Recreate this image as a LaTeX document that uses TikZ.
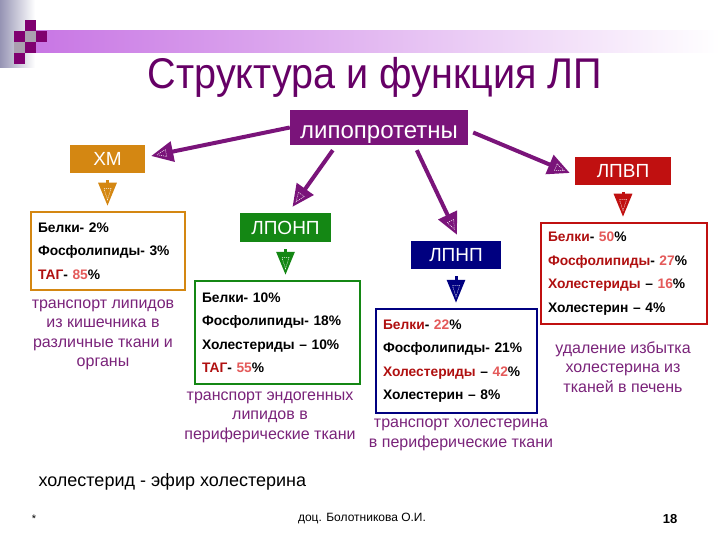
\documentclass[tikz,border=0pt]{standalone}
\usepackage{fontspec}
\setmainfont{Liberation Sans}
\newfontfamily\titlefont[FakeStretch=0.92]{Liberation Sans}
\usepackage{xcolor}
\usetikzlibrary{arrows.meta,calc,decorations.markings}
\definecolor{lpviolet}{RGB}{122,20,122}
\definecolor{titleviolet}{RGB}{102,0,102}
\definecolor{notepurple}{RGB}{122,35,122}
\definecolor{barviolet}{RGB}{200,118,228}
\definecolor{stripgray}{RGB}{150,148,180}
\definecolor{sqpurple}{RGB}{128,0,112}
\definecolor{sqgray}{RGB}{170,160,176}
\definecolor{xmorange}{RGB}{212,135,18}
\definecolor{vldlgreen}{RGB}{20,135,20}
\definecolor{ldlnavy}{RGB}{0,0,128}
\definecolor{hdlred}{RGB}{192,16,16}
\definecolor{wordred}{RGB}{176,16,16}
\definecolor{numred}{RGB}{228,90,90}

\begin{document}
\begin{tikzpicture}[x=1pt,y=-1pt,
  labelbox/.style={fill=#1, text=white, inner sep=0pt, font=\fontsize{19}{22}\selectfont},
  infobox/.style={draw=#1, line width=2.5pt, align=left, inner xsep=7pt, inner ysep=0pt,
    font=\bfseries\fontsize{13.8}{23.5}\selectfont},
  note/.style={text=notepurple, align=center, font=\fontsize{16}{19.5}\selectfont},
  innertri/.style={postaction={decorate, decoration={markings,
    mark=at position 0.999 with {\draw[-, white, line width=0.5pt, dash pattern=on 1pt off 1pt]
      (-#1,-3.5pt) -- (-#1,3.5pt) -- (-6pt,0pt) -- cycle;}}}},
  bigarrow/.style={lpviolet, line width=4pt, -{Triangle[length=22pt,width=20pt]}, innertri=15pt},
  downarrow/.style={#1, line width=3pt, -{Triangle[length=23pt,width=18pt]}, innertri=17pt}
]
\fill[white] (0,0) rectangle (720,540);

% header
\shade[left color=stripgray, right color=white] (0,0) rectangle (35,68);
\shade[left color=barviolet, right color=white] (36,31) rectangle (720,53);
\foreach \x/\y/\c in {25/20/sqpurple, 14/31/sqpurple, 25/31/sqgray, 36/31/sqpurple,
                      14/42/sqgray, 25/42/sqpurple, 14/53/sqpurple}
    \fill[\c] (\x,\y) rectangle ++(11,11);
\node[anchor=base, text=titleviolet, font=\titlefont\fontsize{43}{48}\selectfont] (title) at (375,89) {Структура и функция ЛП};

% lipoprotein classes
\node[labelbox=lpviolet, minimum width=178pt, minimum height=35pt, text height=24pt, text depth=2pt,
      font=\fontsize{24}{27}\selectfont] (lp) at (379,127.5) {липопротетны};
\node[labelbox=xmorange, minimum width=75pt, minimum height=28pt] (xm) at (107.5,159) {ХМ};
\node[labelbox=vldlgreen, minimum width=91pt, minimum height=29pt] (lponp) at (285.5,227.5) {ЛПОНП};
\node[labelbox=ldlnavy, minimum width=90pt, minimum height=28pt] (lpnp) at (456,255) {ЛПНП};
\node[labelbox=hdlred, minimum width=96pt, minimum height=28pt] (lpvp) at (623,171) {ЛПВП};

% composition
\node[infobox=xmorange, text width=140pt, minimum height=78pt] (xmbox) at (108,251)
  {Белки- 2\%\\Фосфолипиды- 3\%\\\textcolor{wordred}{ТАГ}- \textcolor{numred}{85}\%};
\node[infobox=vldlgreen, text width=151pt, minimum height=103pt] (lponpbox) at (277.5,332.5)
  {Белки- 10\%\\Фосфолипиды- 18\%\\Холестериды -- 10\%\\\textcolor{wordred}{ТАГ}- \textcolor{numred}{55}\%};
\node[infobox=ldlnavy, text width=147pt, minimum height=104pt] (lpnpbox) at (456.5,361)
  {\textcolor{wordred}{Белки}- \textcolor{numred}{22}\%\\Фосфолипиды- 21\%\\\textcolor{wordred}{Холестериды} -- \textcolor{numred}{42}\%\\Холестерин -- 8\%};
\node[infobox=hdlred, text width=152pt, minimum height=101pt] (lpvpbox) at (624,273.5)
  {\textcolor{wordred}{Белки}- \textcolor{numred}{50}\%\\\textcolor{wordred}{Фосфолипиды}- \textcolor{numred}{27}\%\\\textcolor{wordred}{Холестериды} -- \textcolor{numred}{16}\%\\Холестерин -- 4\%};

% functions
\node[note] (xmnote) at (103,335) {транспорт липидов\\из кишечника в\\различные ткани и\\органы};
\node[note] (lponpnote) at (270,417) {транспорт эндогенных\\липидов в\\периферические ткани};
\node[note] (lpnpnote) at (461,435) {транспорт холестерина\\в периферические ткани};
\node[note] (lpvpnote) at (623,367) {удаление избытка\\холестерина из\\тканей в печень};

% arrows
\draw[bigarrow] (lp.west) -- ($(xm.east)+(6,-3)$);
\draw[bigarrow] ($(lp.south west)+(43,5)$) -- ($(lponp.north)+(7,-6)$);
\draw[bigarrow] ($(lp.south west)+(127,5)$) -- ($(lpnp.north)+(1,-6)$);
\draw[bigarrow] ($(lp.east)+(5,5)$) -- ($(lpvp.west)+(-5,2)$);
\foreach \a/\b/\c in {xm/xmbox/xmorange, lponp/lponpbox/vldlgreen, lpnp/lpnpbox/ldlnavy, lpvp/lpvpbox/hdlred}
    \draw[downarrow=\c] ($(\a.south)+(0,7)$) -- ($(\a.south|-\b.north)+(0,-5)$);

% footnote
\node[anchor=west, font=\fontsize{18}{21}\selectfont] (ester) at (35,482) {холестерид - эфир холестерина};
\node[font=\fontsize{11}{12}\selectfont] (star) at (34,519) {*};
\node[font=\fontsize{12}{14}\selectfont] (author) at (362,519) {доц. Болотникова О.И.};
\node[font=\bfseries\fontsize{13}{15}\selectfont] (page) at (670,519) {18};
\end{tikzpicture}
\end{document}
